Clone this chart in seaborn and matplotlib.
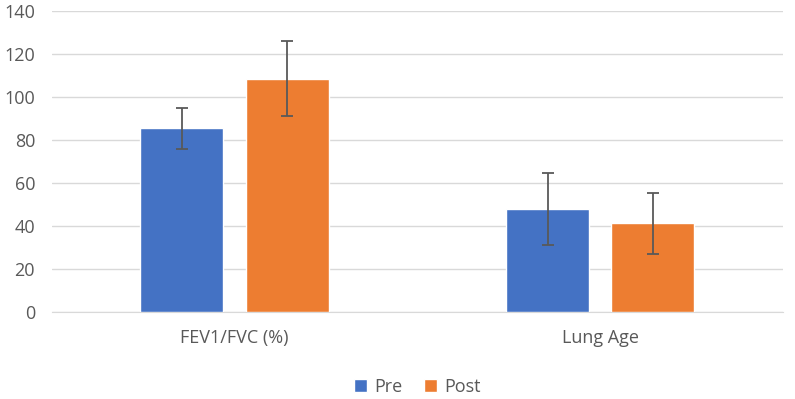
import pandas as pd
import numpy as np
import matplotlib
matplotlib.use("Agg")
import matplotlib.pyplot as plt
import seaborn as sns

categories = ["FEV1/FVC (%)", "Lung Age"]
groups = ["Pre", "Post"]
pre_values = [85.5, 48.0]
post_values = [108.5, 41.2]
pre_err = [9.5, 16.8]
post_err = [17.5, 14.1]

df = pd.DataFrame({
    "category": categories * 2,
    "group": [groups[0]] * 2 + [groups[1]] * 2,
    "value": pre_values + post_values,
    "err": pre_err + post_err,
})

sns.set_style("white")
plt.rcParams["font.family"] = ["Open Sans", "DejaVu Sans"]

fig, ax = plt.subplots(figsize=(7.95, 3.99), dpi=100)
fig.subplots_adjust(left=0.065, right=0.985, top=0.972, bottom=0.218)

palette = {"Pre": "#4472C4", "Post": "#ED7D31"}
sns.barplot(data=df, x="category", y="value", hue="group", palette=palette,
            width=0.575, gap=0.21, errorbar=None, saturation=1, ax=ax, zorder=3)

# error bars on top of each bar
for i, grp in enumerate(groups):
    sub = df[df["group"] == grp]
    xs = [p.get_x() + p.get_width() / 2 for p in ax.containers[i]]
    ax.errorbar(xs, sub["value"], yerr=sub["err"], fmt="none",
                ecolor="#595959", elinewidth=1.3, capsize=4.5, capthick=1.3, zorder=4)

ax.set_xlim(-0.5, 1.5)
ax.set_ylim(0, 140)
ax.set_yticks(np.arange(0, 141, 20))
ax.yaxis.grid(True, color="#d9d9d9", linewidth=1, zorder=0)
ax.set_axisbelow(True)
for s in ["top", "right", "left"]:
    ax.spines[s].set_visible(False)
ax.spines["bottom"].set_color("#d9d9d9")
ax.set_xlabel("")
ax.set_ylabel("")
ax.tick_params(axis="both", length=0, labelsize=13, labelcolor="#595959")
ax.tick_params(axis="x", pad=12)
ax.tick_params(axis="y", pad=12)

ax.legend(loc="upper center", bbox_to_anchor=(0.5, -0.165), ncol=2, frameon=False,
          fontsize=13, handlelength=0.7, handleheight=0.7, handletextpad=0.4,
          columnspacing=1.2, labelcolor="#595959")

fig.savefig("out.png", dpi=100)
